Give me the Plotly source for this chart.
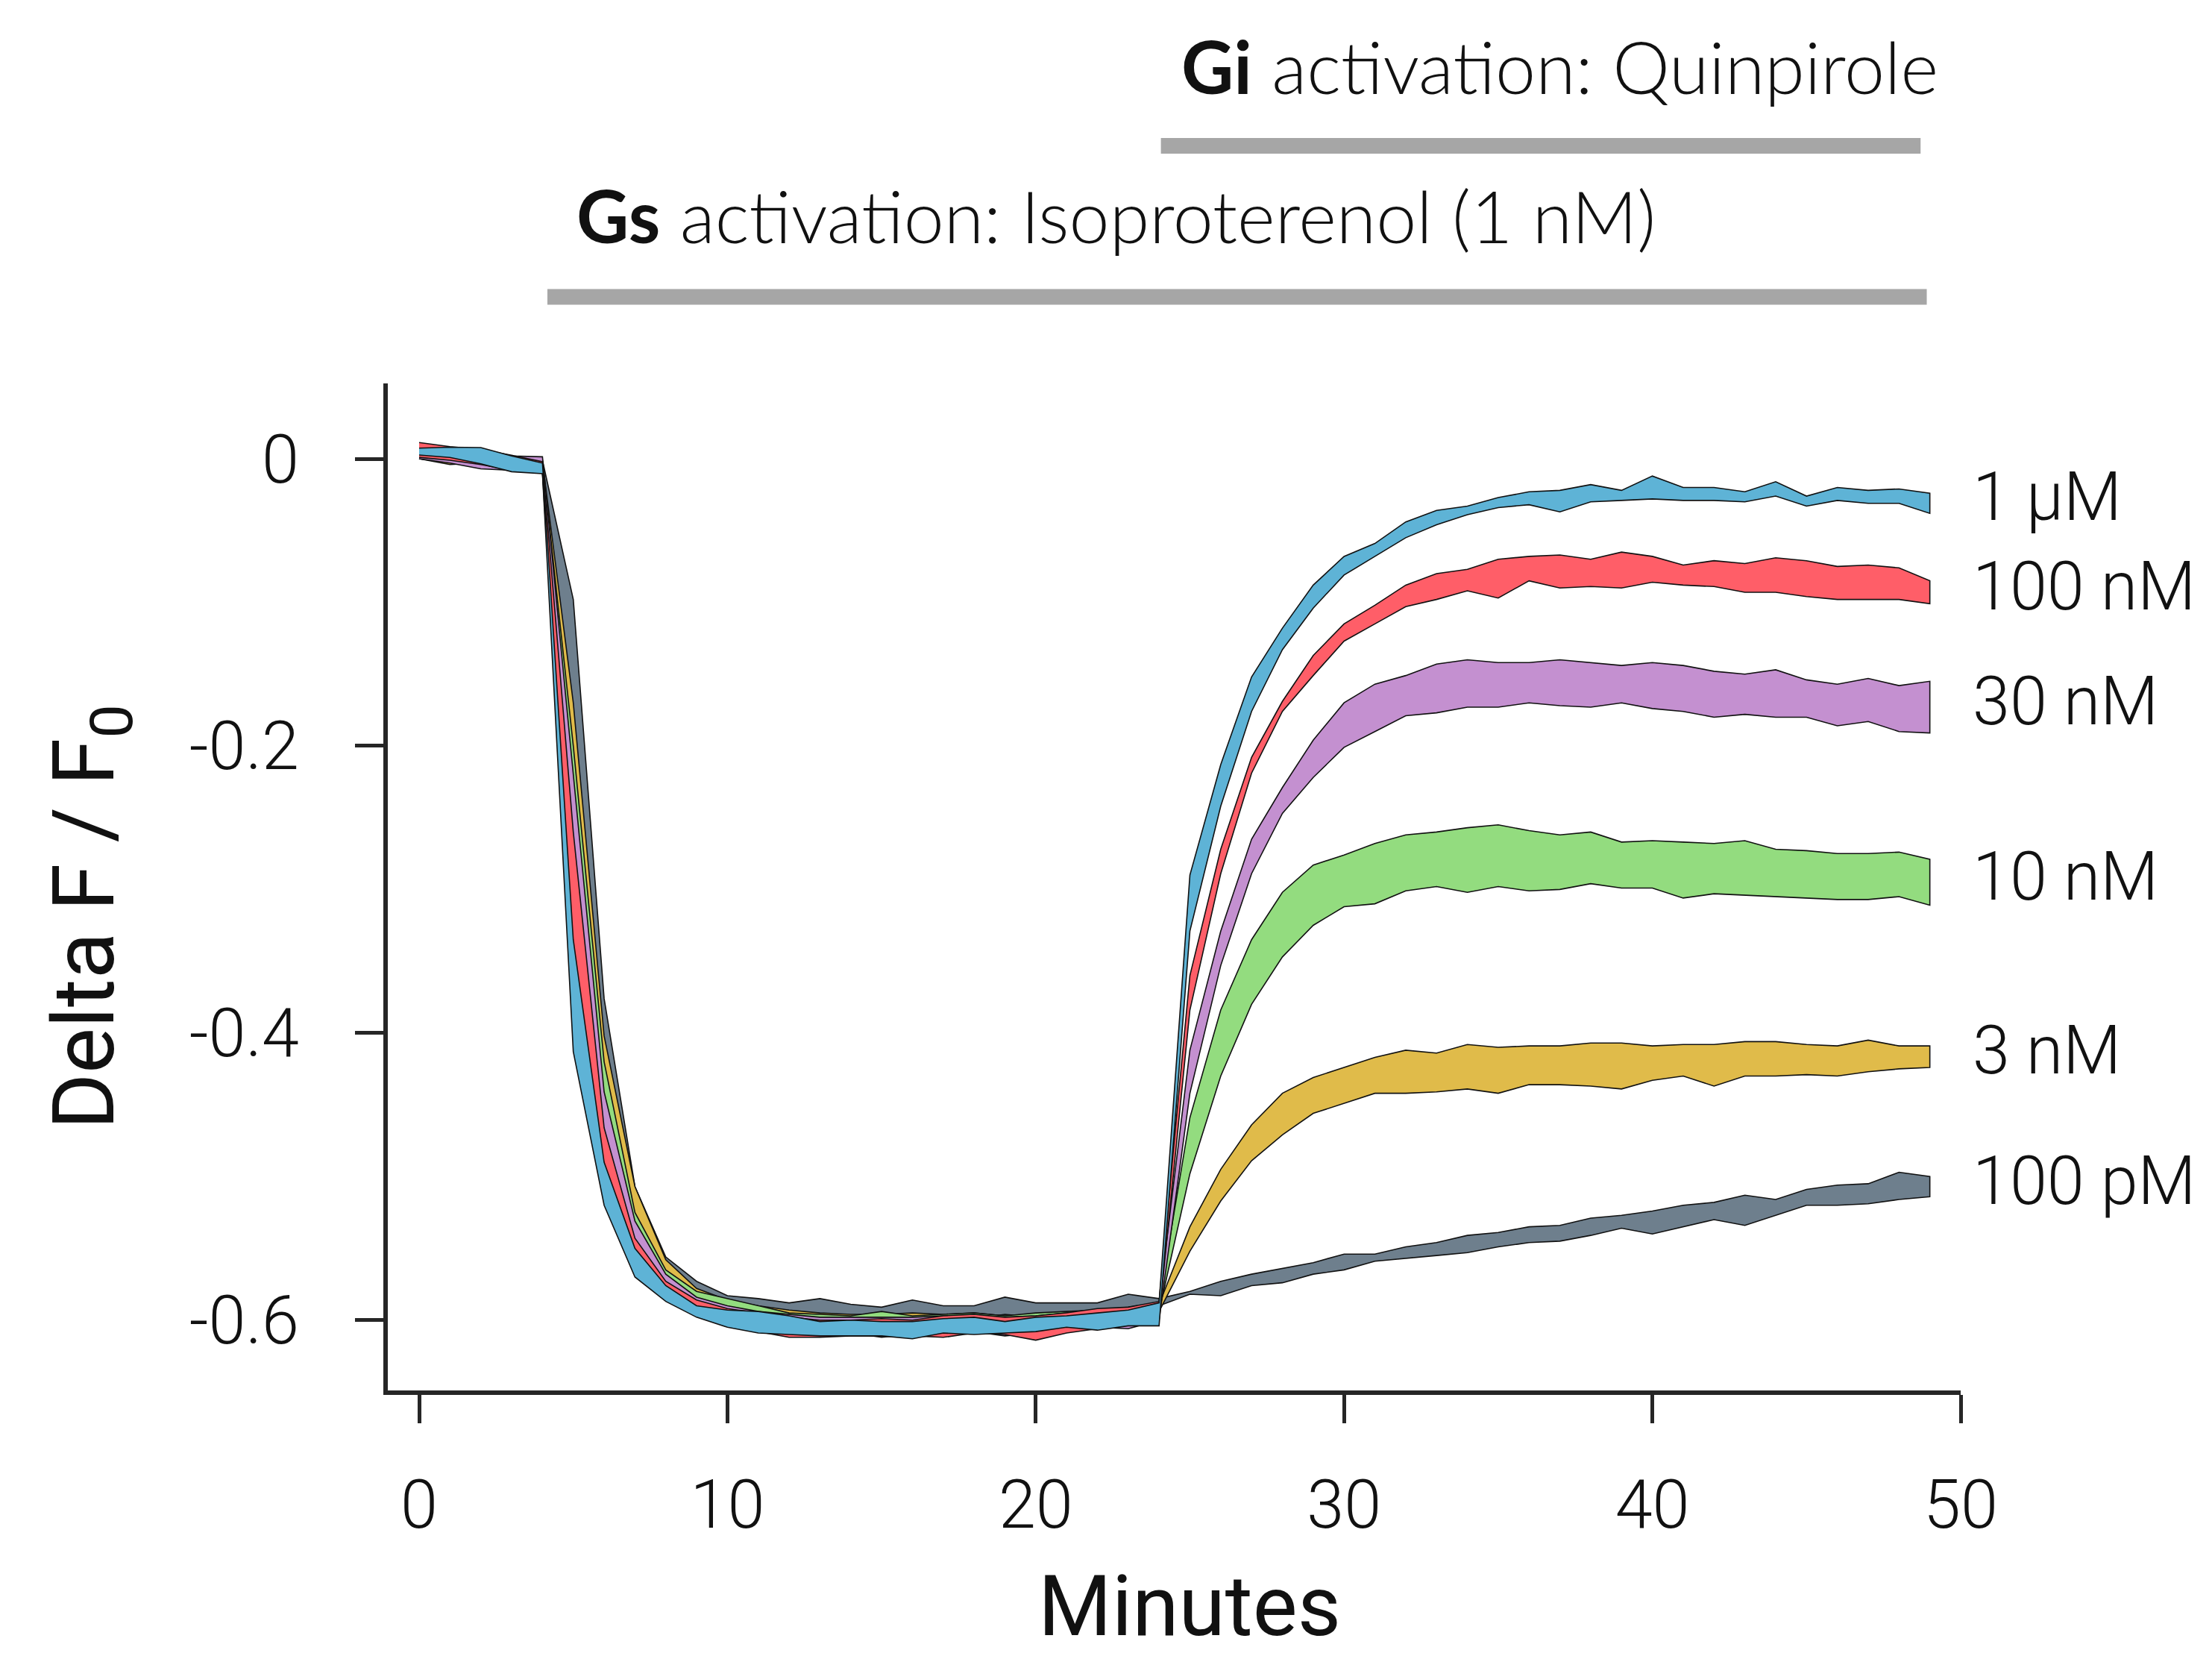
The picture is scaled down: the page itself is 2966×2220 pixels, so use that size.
import plotly.graph_objects as go

minutes = list(range(50))

labels = ["100 pM", "3 nM", "10 nM", "30 nM", "100 nM", "1 µM"]
colors = ["#6e7f8d", "#e0bb4a", "#93dc7f", "#c490d0", "#ff5e68", "#5eb3d6"]

gray_upper = [0.006, 0.004, 0.004, 0.001, -0.001,
              -0.098, -0.376, -0.507, -0.556, -0.573,
              -0.583, -0.585, -0.588, -0.585, -0.589, -0.591, -0.586, -0.590, -0.590, -0.584,
              -0.588, -0.588, -0.588, -0.582, -0.585,
              -0.580, -0.573, -0.568, -0.564, -0.560, -0.554, -0.554, -0.549, -0.546, -0.541,
              -0.539, -0.535, -0.534, -0.529, -0.527, -0.524, -0.520, -0.518, -0.513, -0.516,
              -0.509, -0.506, -0.505, -0.497, -0.500]
gray_lower = [0.000, -0.002, -0.004, -0.006, -0.008,
              -0.180, -0.420, -0.525, -0.568, -0.584,
              -0.592, -0.596, -0.598, -0.597, -0.599, -0.600, -0.598, -0.599, -0.599, -0.596,
              -0.598, -0.598, -0.597, -0.594, -0.590,
              -0.582, -0.583, -0.576, -0.574, -0.568, -0.565, -0.559, -0.557, -0.555, -0.553,
              -0.549, -0.546, -0.545, -0.541, -0.536, -0.540, -0.535, -0.530, -0.534, -0.527,
              -0.520, -0.520, -0.519, -0.516, -0.514]

yellow_upper = [0.007, 0.004, 0.003, 0.000, -0.002,
                -0.170, -0.402, -0.507, -0.558, -0.578,
                -0.586, -0.590, -0.593, -0.595, -0.596, -0.596, -0.595, -0.596, -0.595, -0.597,
                -0.596, -0.595, -0.594, -0.592, -0.589,
                -0.535, -0.495, -0.464, -0.442, -0.431, -0.424, -0.417, -0.412, -0.414, -0.408,
                -0.410, -0.409, -0.409, -0.407, -0.407, -0.409, -0.408, -0.408, -0.406, -0.406,
                -0.408, -0.409, -0.405, -0.409, -0.409]
yellow_lower = [0.000, -0.004, -0.003, -0.006, -0.008,
                -0.230, -0.450, -0.540, -0.572, -0.586,
                -0.592, -0.596, -0.599, -0.600, -0.601, -0.601, -0.600, -0.601, -0.600, -0.602,
                -0.601, -0.600, -0.599, -0.597, -0.594,
                -0.552, -0.517, -0.489, -0.471, -0.456, -0.449, -0.442, -0.442, -0.441, -0.439,
                -0.442, -0.436, -0.436, -0.437, -0.439, -0.433, -0.430, -0.437, -0.430, -0.430,
                -0.429, -0.430, -0.427, -0.425, -0.424]

green_upper = [0.006, 0.005, 0.004, 0.000, -0.002,
               -0.200, -0.420, -0.525, -0.565, -0.580,
               -0.585, -0.590, -0.595, -0.596, -0.597, -0.594, -0.597, -0.596, -0.595, -0.597,
               -0.595, -0.594, -0.593, -0.591, -0.588,
               -0.459, -0.384, -0.335, -0.302, -0.283, -0.276, -0.268, -0.262, -0.260, -0.257,
               -0.255, -0.259, -0.262, -0.260, -0.267, -0.266, -0.267, -0.268, -0.266, -0.272,
               -0.273, -0.275, -0.275, -0.274, -0.279]
green_lower = [0.000, -0.002, -0.005, -0.008, -0.010,
               -0.270, -0.470, -0.548, -0.575, -0.588,
               -0.592, -0.596, -0.600, -0.603, -0.602, -0.601, -0.603, -0.602, -0.601, -0.603,
               -0.602, -0.600, -0.598, -0.596, -0.594,
               -0.498, -0.430, -0.380, -0.347, -0.325, -0.312, -0.310, -0.301, -0.298, -0.302,
               -0.298, -0.301, -0.300, -0.296, -0.299, -0.299, -0.306, -0.303, -0.304, -0.305,
               -0.306, -0.307, -0.307, -0.305, -0.311]

purple_upper = [0.008, 0.007, 0.005, 0.002, 0.0014,
                -0.220, -0.441, -0.531, -0.568, -0.584,
                -0.590, -0.594, -0.596, -0.598, -0.598, -0.598, -0.598, -0.597, -0.597, -0.598,
                -0.597, -0.595, -0.594, -0.592, -0.588,
                -0.412, -0.329, -0.265, -0.229, -0.196, -0.170, -0.157, -0.151, -0.143, -0.140,
                -0.142, -0.142, -0.140, -0.142, -0.144, -0.142, -0.144, -0.148, -0.150, -0.147,
                -0.154, -0.157, -0.153, -0.158, -0.155]
purple_lower = [0.000, -0.003, -0.007, -0.008, -0.009,
                -0.290, -0.480, -0.553, -0.580, -0.594,
                -0.601, -0.605, -0.607, -0.603, -0.609, -0.612, -0.610, -0.609, -0.608, -0.611,
                -0.609, -0.607, -0.605, -0.606, -0.600,
                -0.442, -0.353, -0.289, -0.247, -0.222, -0.201, -0.190, -0.179, -0.177, -0.173,
                -0.173, -0.170, -0.172, -0.173, -0.170, -0.174, -0.176, -0.180, -0.178, -0.180,
                -0.180, -0.186, -0.183, -0.190, -0.191]

red_upper = [0.0113, 0.0085, 0.0065, 0.0025, -0.002,
             -0.260, -0.466, -0.543, -0.573, -0.586,
             -0.592, -0.595, -0.598, -0.600, -0.600, -0.599, -0.600, -0.597, -0.596, -0.598,
             -0.597, -0.595, -0.592, -0.591, -0.587,
             -0.360, -0.272, -0.208, -0.169, -0.137, -0.115, -0.102, -0.088, -0.080, -0.077,
             -0.070, -0.068, -0.067, -0.070, -0.065, -0.068, -0.074, -0.071, -0.073, -0.069,
             -0.071, -0.075, -0.074, -0.076, -0.085]
red_lower = [0.001, -0.001, -0.004, -0.008, -0.010,
             -0.360, -0.505, -0.562, -0.585, -0.597,
             -0.604, -0.608, -0.612, -0.612, -0.611, -0.611, -0.611, -0.612, -0.609, -0.610,
             -0.614, -0.609, -0.606, -0.603, -0.598,
             -0.384, -0.289, -0.219, -0.176, -0.151, -0.127, -0.115, -0.103, -0.098, -0.092,
             -0.097, -0.085, -0.090, -0.089, -0.090, -0.086, -0.088, -0.089, -0.093, -0.093,
             -0.096, -0.098, -0.098, -0.098, -0.101]

blue_upper = [0.0074, 0.0081, 0.0078, 0.0020, -0.0030,
              -0.335, -0.490, -0.550, -0.576, -0.590,
              -0.593, -0.594, -0.597, -0.601, -0.600, -0.601, -0.601, -0.599, -0.598, -0.601,
              -0.598, -0.597, -0.595, -0.593, -0.588,
              -0.290, -0.213, -0.152, -0.118, -0.088, -0.068, -0.059, -0.044, -0.036, -0.033,
              -0.027, -0.023, -0.022, -0.018, -0.022, -0.012, -0.020, -0.020, -0.023, -0.016,
              -0.026, -0.020, -0.022, -0.021, -0.024]
blue_lower = [0.0026, 0.0009, -0.0035, -0.009, -0.0104,
              -0.413, -0.520, -0.570, -0.587, -0.598,
              -0.605, -0.609, -0.610, -0.611, -0.611, -0.611, -0.613, -0.609, -0.610, -0.609,
              -0.608, -0.605, -0.607, -0.604, -0.604,
              -0.329, -0.242, -0.176, -0.133, -0.104, -0.081, -0.068, -0.055, -0.046, -0.039,
              -0.034, -0.032, -0.037, -0.030, -0.029, -0.028, -0.029, -0.029, -0.030, -0.026,
              -0.033, -0.029, -0.031, -0.031, -0.038]

uppers = [gray_upper, yellow_upper, green_upper, purple_upper, red_upper, blue_upper]
lowers = [gray_lower, yellow_lower, green_lower, purple_lower, red_lower, blue_lower]

x_ticks = [0, 10, 20, 30, 40, 50]
y_ticks = [-0.6, -0.4, -0.2, 0]
y_ticktext = ["-0.6", "-0.4", "-0.2", "0"]

fig = go.Figure()
for name, col, up, lo in zip(labels, colors, uppers, lowers):
    fig.add_trace(go.Scatter(
        x=minutes + minutes[::-1],
        y=up + lo[::-1],
        fill="toself", fillcolor=col, mode="lines",
        line=dict(color="#111111", width=1.6),
        name=name, showlegend=False, hoverinfo="skip"))
    fig.add_annotation(x=1.007, y=(up[-1] + lo[-1]) / 2 + 0.004, xref="paper", yref="y",
                       text=name, showarrow=False, xanchor="left", yanchor="middle",
                       borderpad=0,
                       font=dict(family="Roboto", size=90, color="#111111", weight=300))

axis_common = dict(showgrid=False, zeroline=False, showline=True, linecolor="#262626",
                   linewidth=6, ticks="outside", ticklen=38, tickwidth=5, tickcolor="#262626",
                   tickfont=dict(family="Roboto", size=90, color="#111111", weight=300))

fig.update_xaxes(range=[-1.016, 50], tickvals=x_ticks, ticklabelstandoff=32, **axis_common)
fig.update_yaxes(range=[-0.649, 0.0525], tickvals=y_ticks, ticktext=y_ticktext,
                 ticklabelstandoff=57, **axis_common)

# Axis titles
fig.add_annotation(x=-0.226, y=0.47, xref="paper", yref="paper", textangle=-90,
                   text="Delta F / F<sub>0</sub>", showarrow=False,
                   font=dict(family="Roboto", size=115, color="#111111"))
fig.add_annotation(x=0.5097, y=-0.2148, xref="paper", yref="paper",
                   text="Minutes", showarrow=False, yanchor="middle",
                   font=dict(family="Roboto", size=113, color="#111111"))

# Treatment annotations
ann_font = dict(family="Lato", size=97, color="#111111", weight=300)
fig.add_annotation(x=37.0, y=1.315, xref="x", yref="paper", showarrow=False,
                   text="<b>Gi</b> activation: Quinpirole", font=ann_font, yanchor="middle")
fig.add_annotation(x=22.6, y=1.167, xref="x", yref="paper", showarrow=False,
                   text="<b>Gs</b> activation: Isoproterenol (1 nM)", font=ann_font,
                   yanchor="middle")
fig.add_shape(type="line", xref="x", yref="paper", x0=24.06, x1=48.7, y0=1.236, y1=1.236,
              line=dict(color="#a6a6a6", width=21))
fig.add_shape(type="line", xref="x", yref="paper", x0=4.16, x1=48.9, y0=1.086, y1=1.086,
              line=dict(color="#a6a6a6", width=21))

# page body adds an 8 px offset; shrink canvas accordingly
fig.update_layout(width=2950, height=2204, paper_bgcolor="white", plot_bgcolor="white",
                  margin=dict(l=512, r=329, t=506, b=348),
                  font=dict(family="Roboto"))
fig.write_html("out.html")
